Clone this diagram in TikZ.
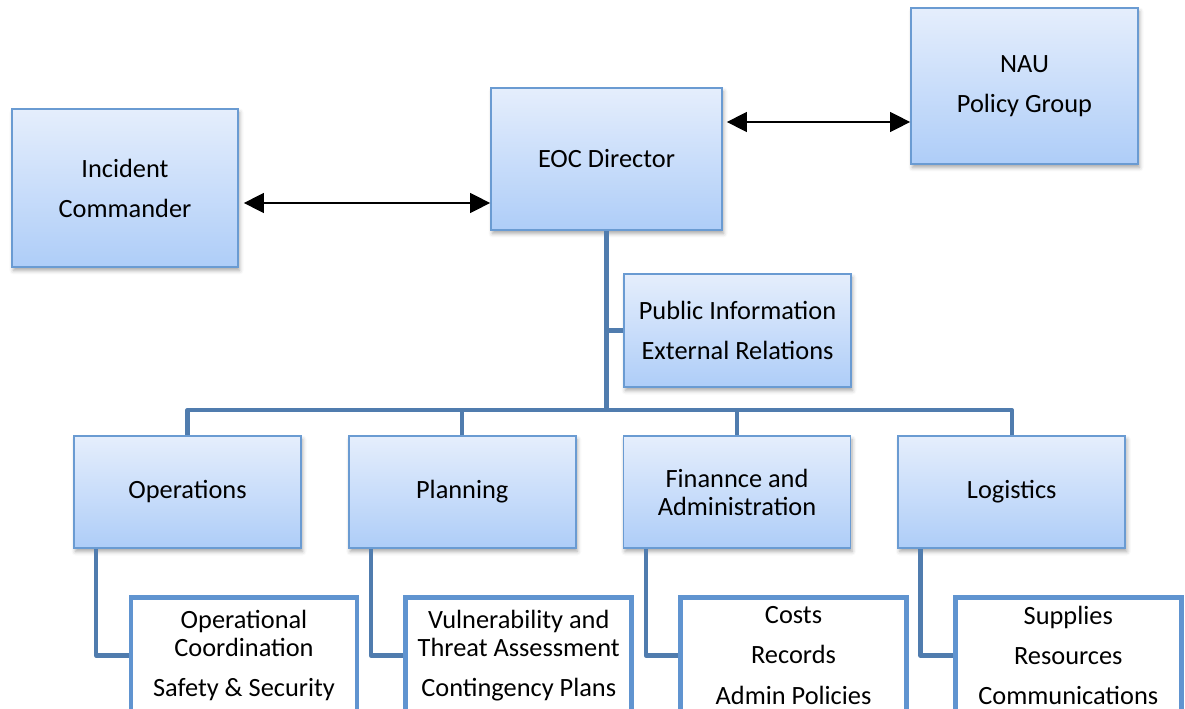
\documentclass[tikz,border=0pt]{standalone}
\usepackage{fontspec}
\setmainfont{Carlito}
\usepackage{xcolor}
\usepackage{tikz}
\usetikzlibrary{
  arrows.meta,
  positioning,
  calc,
  shadows.blur
}
\definecolor{boxline}{RGB}{106,155,210}
\definecolor{boxtop}{RGB}{229,238,252}
\definecolor{boxbottom}{RGB}{174,205,248}
\definecolor{treeline}{RGB}{80,124,174}
\definecolor{subline}{RGB}{96,148,208}
\providecommand{\gap}{\\[6.8pt]}

\begin{document}
\begin{tikzpicture}[
    node distance=0.92cm,
    font=\fontsize{15}{16}\selectfont,
    box/.style={
        draw=boxline,
        line width=1pt,
        rectangle,
        top color=boxtop,
        bottom color=boxbottom,
        align=center,
        minimum width=4.54cm,
        minimum height=2.24cm,
        inner sep=2pt,
        blur shadow={shadow xshift=0.03cm, shadow yshift=-0.07cm,
            shadow blur radius=0.08cm, shadow opacity=35}
    },
    subbox/.style={
        draw=subline,
        line width=2.6pt,
        fill=white,
        align=center,
        minimum width=4.52cm,
        minimum height=2.32cm,
        inner sep=2pt
    },
    tree/.style={draw=treeline, line width=2.4pt, line join=round},
    arrow/.style={
        {Triangle[length=0.4cm,width=0.4cm]}-{Triangle[length=0.4cm,width=0.4cm]},
        line width=0.8pt
    }
]
\useasboundingbox (0,0) rectangle (23.7,14.16);
\clip (0,0) rectangle (23.7,14.16);

% ----------------------------------------------------------
% NODES
% ----------------------------------------------------------

\node[box, minimum width=4.62cm, minimum height=2.84cm] (eoc) at (12.13,10.98) {EOC Director};
\node[box, minimum width=4.52cm, minimum height=3.16cm] (incident) at (2.50,10.40) {Incident\gap Commander};
\node[box, minimum height=3.12cm] (nau) at (20.49,12.44) {\rule{0pt}{8pt}NAU\gap Policy Group};
\node[box, minimum height=2.26cm] (pubinfo) at (14.75,7.55) {Public Information\gap External Relations};

\node[box] (ops) at (3.75,4.32) {Operations};
\node[box, right=of ops] (plan) {Planning};
\node[box, right=of plan] (fin) {Finannce and\\Administration};
\node[box, right=of fin] (log) {Logistics};

\node[subbox] (opssub) at ($(ops)+(1.13,-3.27)$) {Operational\\Coordination\gap Safety \& Security};
\node[subbox] (plansub) at ($(plan)+(1.13,-3.27)$) {Vulnerability and\\Threat Assessment\gap Contingency Plans};
\node[subbox] (finsub) at ($(fin)+(1.13,-3.27)$) {Costs\gap Records\gap Admin Policies};
\node[subbox] (logsub) at ($(log)+(1.13,-3.27)$) {Supplies\gap Resources\gap Communications};

% ----------------------------------------------------------
% ARROWS
% ----------------------------------------------------------

\draw[arrow] ([shift={(0.1,-0.3)}]incident.east) -- ([yshift=-0.3cm]incident.east -| eoc.west);
\draw[arrow] ($(nau.west -| eoc.east)+(0.08,-0.72)$) -- ([yshift=-0.72cm]nau.west);

% ----------------------------------------------------------
% TREE
% ----------------------------------------------------------

\coordinate (bus) at (12.13,5.96);
\draw[tree] (eoc.south) -- (bus);
\draw[tree] (pubinfo.west) -- (pubinfo.west -| eoc.south);
\draw[tree] (ops.north) -- (ops.north |- bus) -- (log.north |- bus) -- (log.north);
\draw[tree] (plan.north) -- (plan.north |- bus);
\draw[tree] (fin.north) -- (fin.north |- bus);

\draw[tree] ([xshift=0.46cm]ops.south west) |- (opssub.west);
\draw[tree] ([xshift=0.46cm]plan.south west) |- (plansub.west);
\draw[tree] ([xshift=0.46cm]fin.south west) |- (finsub.west);
\draw[tree] ([xshift=0.46cm]log.south west) |- (logsub.west);

\end{tikzpicture}
\end{document}
